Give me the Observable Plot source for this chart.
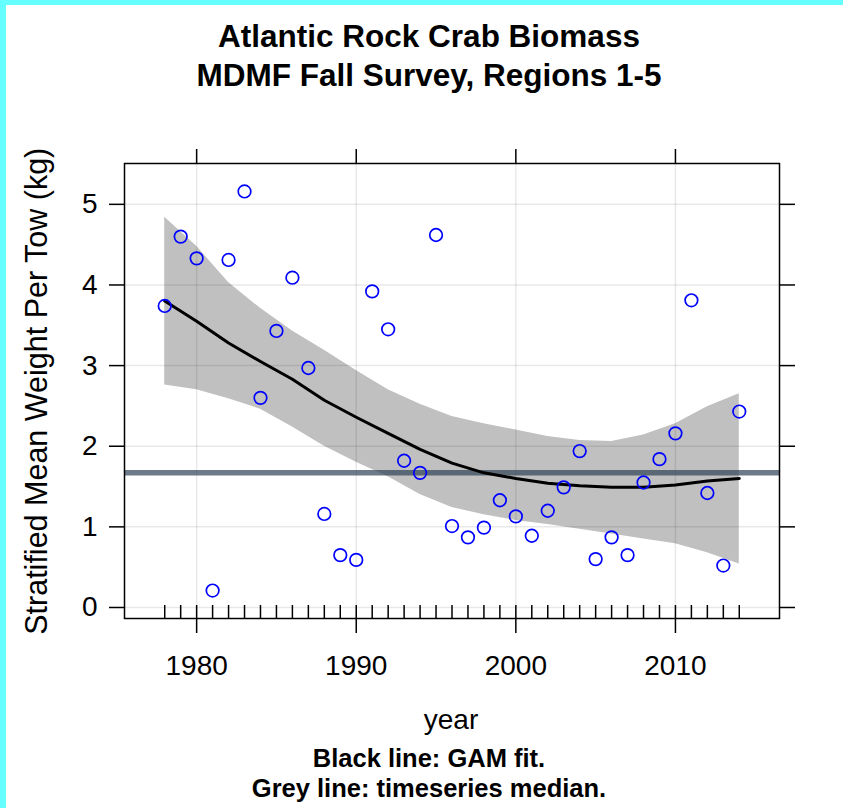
<!DOCTYPE html>
<html>
<head>
<meta charset="utf-8">
<script src="https://cdn.jsdelivr.net/npm/d3@7"></script>
<script src="https://cdn.jsdelivr.net/npm/@observablehq/plot@0.6"></script>
<style>
  html, body { margin: 0; padding: 0; background: #fff; }
  #page { position: relative; width: 843px; height: 808px; overflow: hidden; background: #fff;
          font-family: "Liberation Sans", Arial, sans-serif; color: #000; }
  .bar-top { position: absolute; left: 0; top: 0; width: 843px; height: 5px; background: #66ffff; }
  .bar-left { position: absolute; left: 0; top: 0; width: 6px; height: 808px; background: #66ffff; }
  .line { position: absolute; left: 0; width: 858px; text-align: center; line-height: 1; white-space: nowrap; }
  .title { font-weight: bold; font-size: 31.5px; }
  .cap { font-weight: bold; font-size: 25.5px; }
  #chart { position: absolute; left: 0; top: 100px; }
  #ylab { position: absolute; width: 600px; left: -264px; top: 375.5px; font-size: 30.5px; line-height: 1;
          text-align: center; transform: rotate(-90deg); transform-origin: 50% 50%; white-space: nowrap; }
  #xlab { position: absolute; left: 0; width: 902px; top: 706px; font-size: 28px; line-height: 1; text-align: center; }
</style>
</head>
<body>
<div id="page">
  <div class="bar-top"></div>
  <div class="bar-left"></div>
  <div class="line title" style="top:20.8px">Atlantic Rock Crab Biomass</div>
  <div class="line title" style="top:59.8px">MDMF Fall Survey, Regions 1-5</div>
  <div id="chart"></div>
  <div id="ylab">Stratified Mean Weight Per Tow (kg)</div>
  <div id="xlab">year</div>
  <div class="line cap" style="top:746.4px">Black line: GAM fit.</div>
  <div class="line cap" style="top:776.4px">Grey line: timeseries median.</div>
</div>
<script>
// Observed survey values (stratified mean weight per tow, kg)
const years = [1978,1979,1980,1981,1982,1983,1984,1985,1986,1987,1988,1989,1990,1991,1992,1993,1994,1995,1996,1997,1998,1999,2000,2001,2002,2003,2004,2005,2006,2007,2008,2009,2010,2011,2012,2013,2014];
const values = [3.74,4.60,4.33,0.21,4.31,5.16,2.60,3.43,4.09,2.97,1.16,0.65,0.59,3.92,3.45,1.82,1.67,4.62,1.01,0.87,0.99,1.33,1.13,0.89,1.20,1.49,1.94,0.60,0.87,0.65,1.55,1.84,2.16,3.81,1.42,0.52,2.43];

// GAM fit and confidence band
const fitYears = [1978,1980,1982,1984,1986,1988,1990,1992,1994,1996,1998,2000,2002,2004,2006,2008,2010,2012,2014];
const fitMid = [3.80,3.55,3.28,3.05,2.83,2.57,2.36,2.16,1.96,1.79,1.67,1.60,1.54,1.51,1.49,1.49,1.52,1.57,1.60];
const fitHi  = [4.84,4.48,4.03,3.71,3.43,3.19,2.94,2.70,2.52,2.37,2.28,2.20,2.12,2.07,2.06,2.14,2.28,2.49,2.65];
const fitLo  = [2.76,2.70,2.59,2.46,2.24,2.00,1.80,1.62,1.40,1.24,1.15,1.08,1.03,0.97,0.91,0.85,0.79,0.68,0.54];

// Tick values
const xTicks = [1980, 1990, 2000, 2010];
const yTicks = [0, 1, 2, 3, 4, 5];

const obs = years.map((year, i) => ({year, value: values[i]}));
const fit = fitYears.map((year, i) => ({year, mid: fitMid[i], hi: fitHi[i], lo: fitLo[i]}));
const median = d3.median(values);

// lattice-style 7% padding on both scales
const xr = d3.extent(years), yr = d3.extent(values);
const xPad = (xr[1] - xr[0]) * 0.07, yPad = (yr[1] - yr[0]) * 0.07;

const chart = Plot.plot({
  width: 843,
  height: 640,
  marginLeft: 124,
  marginRight: 64,
  marginTop: 63,
  marginBottom: 122,
  style: {fontFamily: "'Liberation Sans', Arial, sans-serif", color: "#000", background: "transparent"},
  x: {domain: [xr[0] - xPad, xr[1] + xPad], axis: null},
  y: {domain: [yr[0] - yPad, yr[1] + yPad], axis: null},
  marks: [
    Plot.areaY(fit, {x: "year", y1: "lo", y2: "hi", fill: "#c0c0c0"}),
    Plot.gridX({ticks: xTicks, stroke: "#000", strokeOpacity: 0.09, strokeWidth: 1.5}),
    Plot.gridY({ticks: yTicks, stroke: "#000", strokeOpacity: 0.09, strokeWidth: 1.5}),
    Plot.ruleY([median], {stroke: "#2f4256", strokeOpacity: 0.7, strokeWidth: 5.5}),
    Plot.line(fit, {x: "year", y: "mid", stroke: "#000", strokeWidth: 3}),
    Plot.dot(obs, {x: "year", y: "value", r: 6.3, stroke: "#0000ff", strokeWidth: 1.7, fill: "none"}),
    Plot.tickX(years, {x: d => d, insetTop: 442, stroke: "#000", strokeWidth: 1.5}),
    Plot.frame({stroke: "#000", strokeWidth: 1.5}),
    Plot.axisX({ticks: xTicks, anchor: "bottom", tickSize: 15, tickPadding: 22, fontSize: 28, strokeWidth: 1.5, tickFormat: d => String(d), label: null}),
    Plot.axisX({ticks: xTicks, anchor: "top", tickSize: 15, strokeWidth: 1.5, tickFormat: () => "", label: null}),
    Plot.axisY({ticks: yTicks, anchor: "left", tickSize: 15, tickPadding: 12, fontSize: 28, strokeWidth: 1.5, tickFormat: d => String(d), label: null}),
    Plot.axisY({ticks: yTicks, anchor: "right", tickSize: 15, strokeWidth: 1.5, tickFormat: () => "", label: null})
  ]
});
document.getElementById("chart").appendChild(chart);
</script>
</body>
</html>
